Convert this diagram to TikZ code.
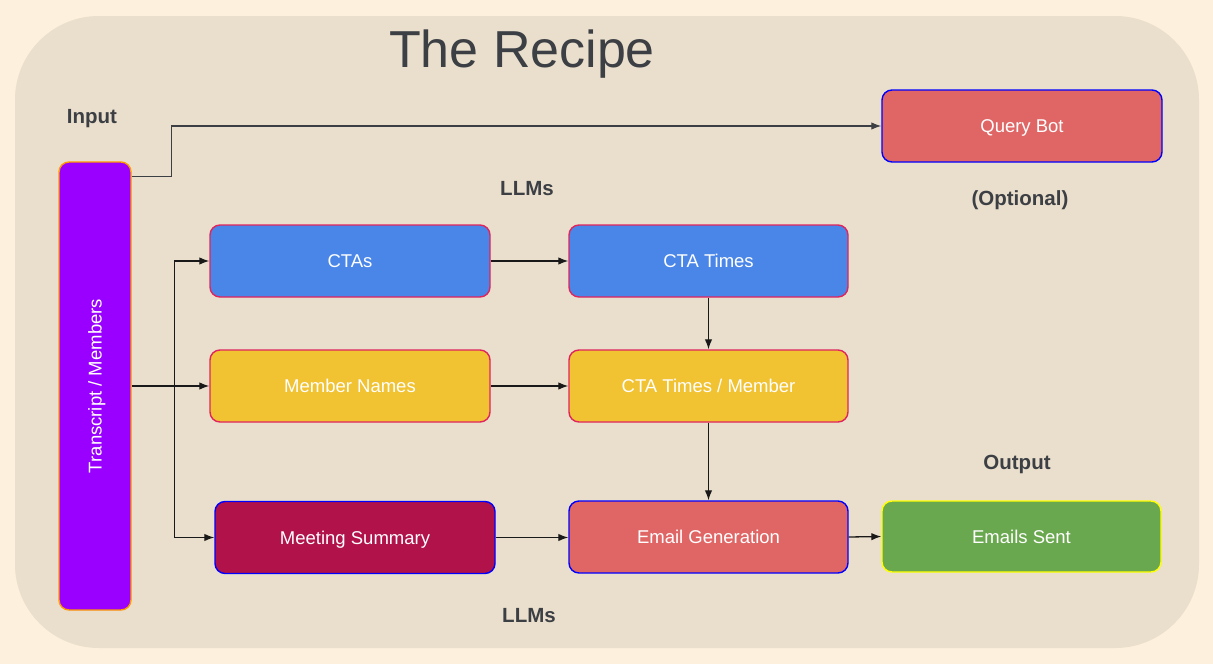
\documentclass[tikz,border=0pt]{standalone}
\usepackage{fontspec}
\setmainfont{Liberation Sans}
\usetikzlibrary{arrows.meta,calc}
\definecolor{outerbg}{HTML}{FDF0DC}
\definecolor{innerbg}{HTML}{EADFCC}
\definecolor{txtdark}{HTML}{3C3F44}
\definecolor{purplefill}{HTML}{9900FF}
\definecolor{orangeedge}{HTML}{FF9900}
\definecolor{redfill}{HTML}{E06666}
\definecolor{bluefill}{HTML}{4A86E8}
\definecolor{yellowfill}{HTML}{F1C232}
\definecolor{maroonfill}{HTML}{B1124A}
\definecolor{greenfill}{HTML}{6AA84F}
\definecolor{pinkedge}{HTML}{E0245E}
\definecolor{blueedge}{HTML}{0000FF}
\definecolor{yellowedge}{HTML}{FFFF00}
\tikzset{
  box/.style={rectangle, rounded corners=10pt, line width=1.4pt, minimum width=280pt, minimum height=72pt, text=white, font=\fontsize{18.5}{22}\selectfont, inner sep=0pt, text height=13.25pt, text depth=0pt},
  pinkbox/.style={box, draw=pinkedge},
  bluebox/.style={box, draw=blueedge},
  lbl/.style={text=txtdark, font=\fontsize{20.5}{24}\selectfont\bfseries, text height=14.7pt, text depth=0pt, inner sep=0pt},
  arr/.style={line width=1.3pt, draw=black!90, -{Latex[length=10pt,width=7.5pt]}}
}
\begin{document}
\begin{tikzpicture}[x=1pt,y=-1pt]
\fill[outerbg] (0,0) rectangle (1213,664);
\useasboundingbox (0,0) rectangle (1213,664);
\fill[innerbg, rounded corners=84pt] (15,16) rectangle (1199,648);

\node[text=txtdark, font=\fontsize{52}{60}\selectfont, text height=37.2pt, text depth=0pt, inner sep=0pt] (title) at (522,48.5) {The Recipe};
\node[lbl] (input) at (92,116) {Input};
\node[lbl] (llm1) at (527,188) {LLMs};
\node[lbl] (opt) at (1020,198) {(Optional)};
\node[lbl] (outp) at (1017,462) {Output};
\node[lbl] (llm2) at (529,615) {LLMs};

\node[box, draw=orangeedge, fill=purplefill, minimum width=72pt, minimum height=448pt] (tm) at (95,386) {};
\node[text=white, font=\fontsize{18.5}{22}\selectfont, text height=13.25pt, text depth=0pt, inner sep=0pt, rotate=90] (tmtext) at (95,386) {Transcript / Members};

\node[bluebox, fill=redfill, minimum width=280pt] (qb) at (1022,126) {Query Bot};
\node[pinkbox, fill=bluefill] (cta) at (350,261) {CTAs};
\node[pinkbox, fill=bluefill, minimum width=279pt] (ctat) at (708.5,261) {CTA Times};
\node[pinkbox, fill=yellowfill] (mn) at (350,386) {Member Names};
\node[pinkbox, fill=yellowfill, minimum width=279pt] (ctam) at (708.5,386) {CTA Times / Member};
\node[bluebox, fill=maroonfill] (ms) at (355,537.5) {Meeting Summary};
\node[bluebox, fill=redfill, minimum width=279pt] (eg) at (708.5,537) {Email Generation};
\node[box, draw=yellowedge, fill=greenfill, minimum width=279pt, minimum height=71pt] (es) at (1021.5,536.5) {Emails Sent};

\draw[arr, draw=txtdark] ([yshift=-15pt]tm.north east) -- ++(40,0) |- (qb.west);
\draw[arr] (tm.east) -- (mn.west);
\coordinate (br) at ($(tm.east)+(43,0)$);
\draw[arr] (br) |- (cta.west);
\draw[arr] (br) |- (ms.west);
\draw[arr] (cta.east) -- (ctat.west);
\draw[arr] (ctat.south) -- (ctam.north);
\draw[arr] (mn.east) -- (ctam.west);
\draw[arr] (ctam.south) -- (eg.north);
\draw[arr] (ms.east) -- (ms.east -| eg.west);
\draw[arr] (eg.east) -- (es.west);
\end{tikzpicture}
\end{document}
